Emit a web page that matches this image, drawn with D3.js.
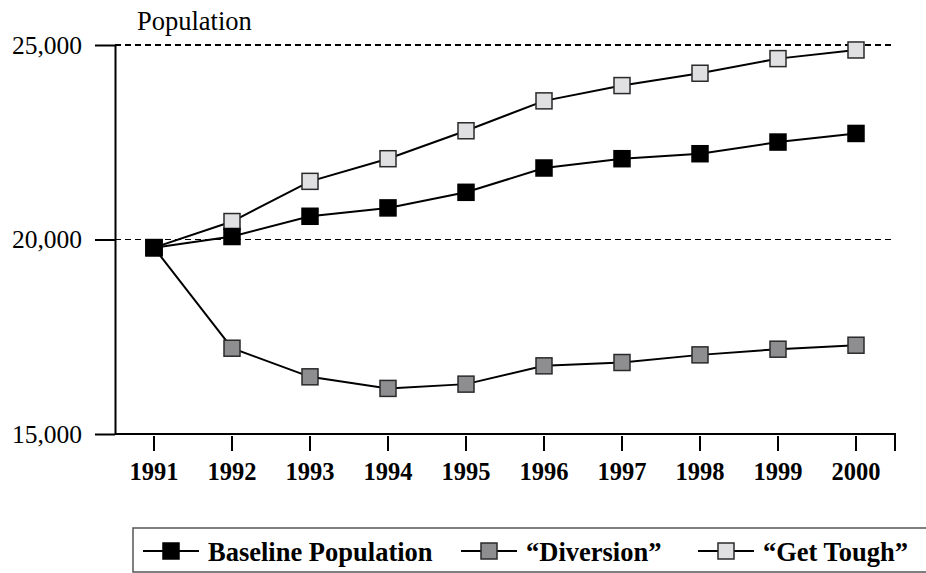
<!DOCTYPE html>
<html>
<head>
<meta charset="utf-8">
<script src="https://cdn.jsdelivr.net/npm/d3@7"></script>
<style>
  html, body { margin: 0; padding: 0; background: #fff; }
  svg { display: block; font-family: "Liberation Serif", "Times New Roman", serif; }
</style>
</head>
<body>
<svg id="chart" width="926" height="573"></svg>
<script>
// Projected prison population under three policy scenarios
const years = ["1991", "1992", "1993", "1994", "1995", "1996", "1997", "1998", "1999", "2000"];
const baseline  = [19790, 20077, 20597, 20812, 21213, 21838, 22077, 22205, 22505, 22726];
const diversion = [19790, 17205, 16470, 16172, 16282, 16752, 16838, 17034, 17180, 17282];
const getTough  = [19790, 20462, 21495, 22077, 22795, 23564, 23957, 24274, 24650, 24872];
const yTicks = [15000, 20000, 25000];
const gridValues = [20000, 25000];
const seriesNames = ["Baseline Population", "\u201CDiversion\u201D", "\u201CGet Tough\u201D"];
const seriesFills = ["#000000", "#8e8e91", "#e0e0e2"];

const FONT = '"Liberation Serif", "Times New Roman", serif';
const svg = d3.select("#chart");

const x = d3.scaleBand().domain(years).range([115, 895]).padding(0);
const y = d3.scaleLinear().domain([15000, 25000]).range([434, 45]);
const cx = d => x(d) + x.bandwidth() / 2;

// dashed reference lines
svg.append("g").selectAll("line").data(gridValues).join("line")
  .attr("x1", 115).attr("x2", 893)
  .attr("y1", d => y(d)).attr("y2", d => y(d))
  .attr("stroke", "#000").attr("stroke-width", 1.2)
  .attr("shape-rendering", "crispEdges")
  .attr("stroke-dasharray", "6,4");

// y axis
const yAxis = svg.append("g").attr("transform", "translate(115,0)")
  .call(d3.axisLeft(y).tickValues(yTicks).tickSize(20).tickSizeOuter(0).tickFormat(d3.format(",")));
yAxis.select(".domain").attr("stroke-width", 2);
yAxis.selectAll(".tick line").attr("stroke-width", 2);
yAxis.selectAll(".tick text")
  .attr("x", -33).attr("dy", "0.32em")
  .attr("font-family", FONT)
  .attr("font-size", 25.5).attr("fill", "#000");

// x axis
const xAxis = svg.append("g").attr("transform", "translate(0,434)")
  .call(d3.axisBottom(x).tickSize(17).tickSizeOuter(0));
xAxis.select(".domain").remove();
xAxis.selectAll(".tick line").attr("stroke-width", 2).attr("y1", 2);
xAxis.selectAll(".tick text")
  .attr("y", 46).attr("dy", 0)
  .attr("font-family", FONT)
  .attr("font-weight", "bold")
  .attr("font-size", 24.5).attr("fill", "#000");
const [xr0, xr1] = x.range();
xAxis.append("path")
  .attr("d", `M${xr0},0H${xr1}V17`)
  .attr("fill", "none").attr("stroke", "#000").attr("stroke-width", 2);

// axis title
svg.append("text")
  .attr("x", 137).attr("y", 30)
  .attr("font-size", 26.5).attr("fill", "#000")
  .text("Population");

// series: draw get-tough first, baseline last
const series = [
  { name: seriesNames[2], values: getTough, fill: seriesFills[2] },
  { name: seriesNames[1], values: diversion, fill: seriesFills[1] },
  { name: seriesNames[0], values: baseline, fill: seriesFills[0] }
];

const line = d3.line().x((d, i) => cx(years[i])).y(d => y(d));
const ms = 16;

series.forEach(s => {
  const g = svg.append("g");
  g.append("path")
    .attr("d", line(s.values))
    .attr("fill", "none").attr("stroke", "#000").attr("stroke-width", 2);
  g.selectAll("rect").data(s.values).join("rect")
    .attr("x", (d, i) => cx(years[i]) - ms / 2)
    .attr("y", d => y(d) - ms / 2)
    .attr("width", ms).attr("height", ms)
    .attr("fill", s.fill)
    .attr("stroke", s.fill === "#000000" ? "#000" : "#2a2a2a")
    .attr("stroke-width", 1.5);
});

// legend
const legend = svg.append("g");
legend.append("rect")
  .attr("x", 133).attr("y", 528).attr("width", 820).attr("height", 44)
  .attr("fill", "none").attr("stroke", "#555").attr("stroke-width", 1.5);

const legendItems = [
  { name: seriesNames[0], fill: seriesFills[0], x0: 143 },
  { name: seriesNames[1], fill: seriesFills[1], x0: 461 },
  { name: seriesNames[2], fill: seriesFills[2], x0: 698 }
];
const ly = 551;
legendItems.forEach(it => {
  legend.append("line")
    .attr("x1", it.x0).attr("x2", it.x0 + 56)
    .attr("y1", ly).attr("y2", ly)
    .attr("stroke", "#000").attr("stroke-width", 2);
  legend.append("rect")
    .attr("x", it.x0 + 28 - ms / 2).attr("y", ly - ms / 2)
    .attr("width", ms).attr("height", ms)
    .attr("fill", it.fill)
    .attr("stroke", it.fill === "#000000" ? "#000" : "#2a2a2a")
    .attr("stroke-width", 1.5);
  legend.append("text")
    .attr("x", it.x0 + 65).attr("y", 561)
    .attr("font-size", 26.5).attr("font-weight", "bold").attr("fill", "#000")
    .text(it.name);
});
</script>
</body>
</html>
